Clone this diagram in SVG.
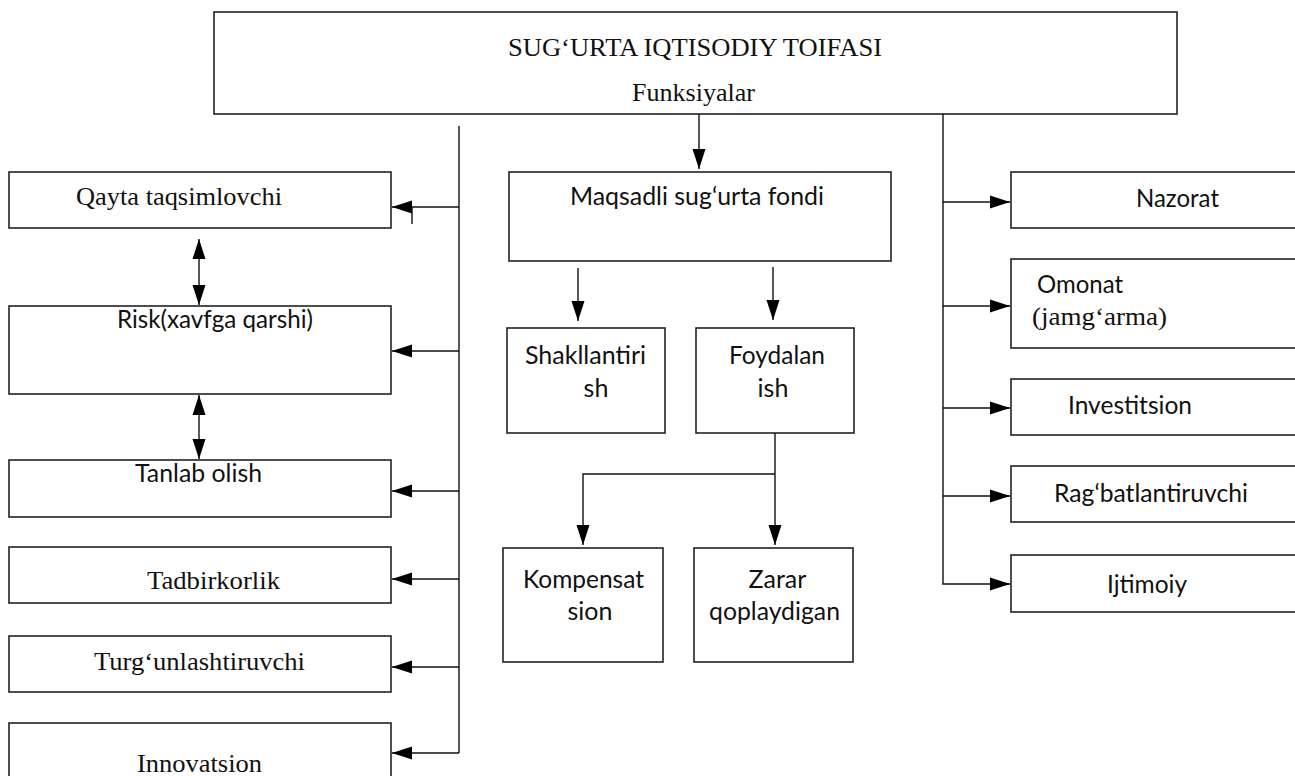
<svg xmlns="http://www.w3.org/2000/svg" width="1295" height="776" viewBox="0 0 1295 776">
  <style>
    .box { fill: #fff; stroke: #222; stroke-width: 1.6; }
    .ln { fill: none; stroke: #111; stroke-width: 1.4; }
    .serif { font-family: "Liberation Serif", "Times New Roman", serif; font-size: 26px; fill: #111; text-anchor: middle; }
    .sans { font-family: Lato, "Open Sans", "Liberation Sans", sans-serif; font-size: 25px; fill: #111; text-anchor: middle; }
  </style>
  <defs>
    <marker id="arrow" markerUnits="userSpaceOnUse" markerWidth="21" markerHeight="14" refX="20" refY="7" orient="auto-start-reverse">
      <path d="M0,0.5 L20,7 L0,13.5 Z" fill="#000"/>
    </marker>
  </defs>

  <!-- header -->
  <g id="header">
    <rect class="box" x="214" y="12" width="963" height="102"/>
    <text class="serif" x="695" y="56" textLength="374" lengthAdjust="spacingAndGlyphs">SUG‘URTA IQTISODIY TOIFASI</text>
    <text class="serif" x="693.5" y="101" textLength="123" lengthAdjust="spacingAndGlyphs">Funksiyalar</text>
  </g>

  <!-- left column -->
  <g id="qayta">
    <rect class="box" x="9" y="172" width="382" height="56"/>
    <text class="serif" x="179" y="205" textLength="206" lengthAdjust="spacingAndGlyphs">Qayta taqsimlovchi</text>
  </g>
  <g id="risk">
    <rect class="box" x="9" y="306" width="382" height="88"/>
    <text class="sans" x="215" y="328" textLength="196" lengthAdjust="spacingAndGlyphs">Risk(xavfga qarshi)</text>
  </g>
  <g id="tanlab">
    <rect class="box" x="9" y="460" width="382" height="57"/>
    <text class="sans" x="198.5" y="482" textLength="127" lengthAdjust="spacingAndGlyphs">Tanlab olish</text>
  </g>
  <g id="tadbirkorlik">
    <rect class="box" x="9" y="547" width="382" height="56"/>
    <text class="serif" x="213.5" y="589" textLength="133" lengthAdjust="spacingAndGlyphs">Tadbirkorlik</text>
  </g>
  <g id="turgunlashtiruvchi">
    <rect class="box" x="9" y="636" width="382" height="56"/>
    <text class="serif" x="199.5" y="670" textLength="211" lengthAdjust="spacingAndGlyphs">Turg‘unlashtiruvchi</text>
  </g>
  <g id="innovatsion">
    <rect class="box" x="9" y="723" width="382" height="70"/>
    <text class="serif" x="199.5" y="772" textLength="125" lengthAdjust="spacingAndGlyphs">Innovatsion</text>
  </g>

  <!-- centre column -->
  <g id="fond">
    <rect class="box" x="509" y="172" width="382" height="89"/>
    <text class="sans" x="697" y="205" textLength="254" lengthAdjust="spacingAndGlyphs">Maqsadli sug‘urta fondi</text>
  </g>
  <g id="shakllantirish">
    <rect class="box" x="507" y="328" width="158" height="105"/>
    <text class="sans" x="585.5" y="364" textLength="121" lengthAdjust="spacingAndGlyphs">Shakllantiri</text>
    <text class="sans" x="596" y="397">sh</text>
  </g>
  <g id="foydalanish">
    <rect class="box" x="696" y="328" width="158" height="105"/>
    <text class="sans" x="777" y="364" textLength="96" lengthAdjust="spacingAndGlyphs">Foydalan</text>
    <text class="sans" x="773" y="397">ish</text>
  </g>
  <g id="kompensatsion">
    <rect class="box" x="503" y="548" width="160" height="114"/>
    <text class="sans" x="583.5" y="588" textLength="121" lengthAdjust="spacingAndGlyphs">Kompensat</text>
    <text class="sans" x="590" y="620">sion</text>
  </g>
  <g id="zarar">
    <rect class="box" x="694" y="548" width="159" height="114"/>
    <text class="sans" x="777.5" y="588">Zarar</text>
    <text class="sans" x="774.5" y="620" textLength="131" lengthAdjust="spacingAndGlyphs">qoplaydigan</text>
  </g>

  <!-- right column -->
  <g id="nazorat">
    <rect class="box" x="1011" y="172" width="300" height="56"/>
    <text class="sans" x="1177.5" y="207" textLength="83" lengthAdjust="spacingAndGlyphs">Nazorat</text>
  </g>
  <g id="omonat">
    <rect class="box" x="1011" y="259" width="300" height="89"/>
    <text class="sans" x="1080" y="293" textLength="86" lengthAdjust="spacingAndGlyphs">Omonat</text>
    <text class="serif" x="1099.5" y="325" textLength="135" lengthAdjust="spacingAndGlyphs">(jamg‘arma)</text>
  </g>
  <g id="investitsion">
    <rect class="box" x="1011" y="379" width="300" height="56"/>
    <text class="sans" x="1130" y="414" textLength="124" lengthAdjust="spacingAndGlyphs">Investitsion</text>
  </g>
  <g id="ragbatlantiruvchi">
    <rect class="box" x="1011" y="466" width="300" height="56"/>
    <text class="sans" x="1151" y="502" textLength="194" lengthAdjust="spacingAndGlyphs">Rag‘batlantiruvchi</text>
  </g>
  <g id="ijtimoiy">
    <rect class="box" x="1011" y="555" width="300" height="57"/>
    <text class="sans" x="1147" y="593" textLength="80" lengthAdjust="spacingAndGlyphs">Ijtimoiy</text>
  </g>

  <!-- connectors -->
  <g id="connectors">
    <!-- header to fund -->
    <line class="ln" x1="699" y1="114" x2="699" y2="169" marker-end="url(#arrow)"/>

    <!-- left bus -->
    <line class="ln" x1="459" y1="126" x2="459" y2="753"/>
    <line class="ln" x1="459" y1="207" x2="392" y2="207" marker-end="url(#arrow)"/>
    <line class="ln" x1="412" y1="207" x2="412" y2="224"/>
    <line class="ln" x1="459" y1="351" x2="392" y2="351" marker-end="url(#arrow)"/>
    <line class="ln" x1="459" y1="491" x2="392" y2="491" marker-end="url(#arrow)"/>
    <line class="ln" x1="459" y1="579" x2="392" y2="579" marker-end="url(#arrow)"/>
    <line class="ln" x1="459" y1="667" x2="392" y2="667" marker-end="url(#arrow)"/>
    <line class="ln" x1="459" y1="753" x2="392" y2="753" marker-end="url(#arrow)"/>

    <!-- two-way links in left column -->
    <line class="ln" x1="199" y1="239" x2="199" y2="305" marker-start="url(#arrow)" marker-end="url(#arrow)"/>
    <line class="ln" x1="199" y1="395" x2="199" y2="459" marker-start="url(#arrow)" marker-end="url(#arrow)"/>

    <!-- fund split -->
    <line class="ln" x1="578" y1="268" x2="578" y2="321" marker-end="url(#arrow)"/>
    <line class="ln" x1="773" y1="267" x2="773" y2="320" marker-end="url(#arrow)"/>

    <!-- usage branches -->
    <line class="ln" x1="775" y1="433" x2="775" y2="545" marker-end="url(#arrow)"/>
    <polyline class="ln" points="775,474 583,474 583,545" marker-end="url(#arrow)"/>

    <!-- right bus -->
    <polyline class="ln" points="943,114 943,584 1010,584" marker-end="url(#arrow)"/>
    <line class="ln" x1="943" y1="202" x2="1010" y2="202" marker-end="url(#arrow)"/>
    <line class="ln" x1="943" y1="306" x2="1010" y2="306" marker-end="url(#arrow)"/>
    <line class="ln" x1="943" y1="408" x2="1010" y2="408" marker-end="url(#arrow)"/>
    <line class="ln" x1="943" y1="496" x2="1010" y2="496" marker-end="url(#arrow)"/>
  </g>
</svg>
